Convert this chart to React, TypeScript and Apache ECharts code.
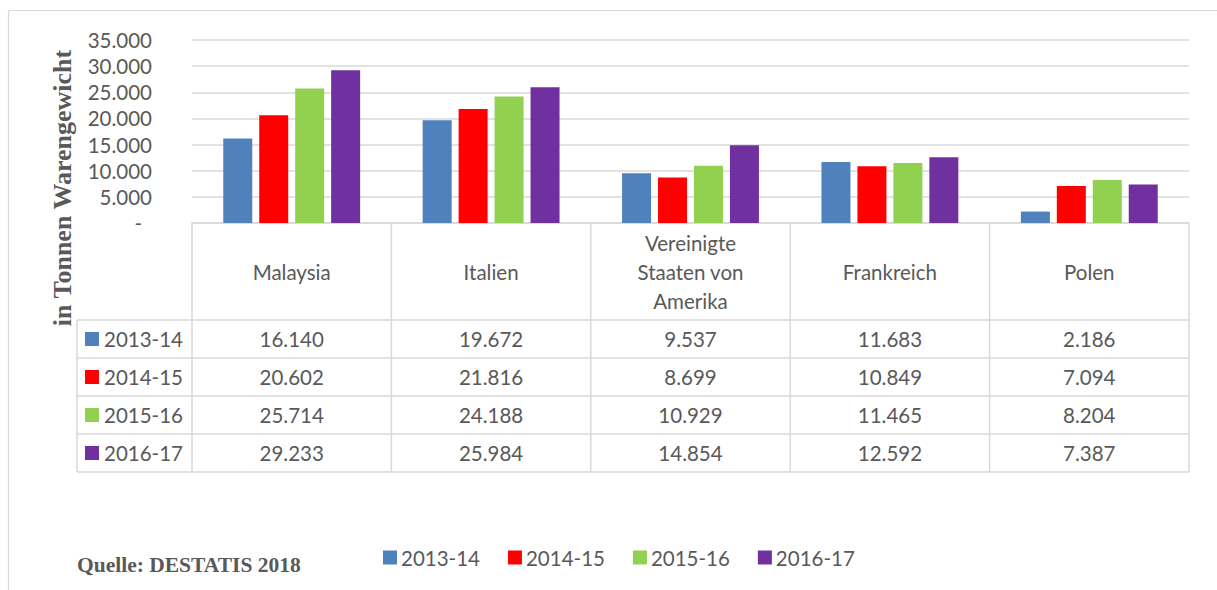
import React, { useEffect, useRef } from "react";
import * as echarts from "echarts";

const categories = ["Malaysia", "Italien", "Vereinigte Staaten von Amerika", "Frankreich", "Polen"];
const headerLabels = ["Malaysia", "Italien", "Vereinigte\nStaaten von\nAmerika", "Frankreich", "Polen"];
const seriesNames = ["2013-14", "2014-15", "2015-16", "2016-17"];
const values2013 = [16140, 19672, 9537, 11683, 2186];
const values2014 = [20602, 21816, 8699, 10849, 7094];
const values2015 = [25714, 24188, 10929, 11465, 8204];
const values2016 = [29233, 25984, 14854, 12592, 7387];
const seriesValues = [values2013, values2014, values2015, values2016];
const colors = ["#4F81BD", "#FF0000", "#92D050", "#7030A0"];
const yMin = 0;
const yMax = 35000;
const yInterval = 5000;
const yTitle = "in Tonnen Warengewicht";
const sourceText = "Quelle: DESTATIS 2018";

const FONT = "Lato";
const TEXT = "#595959";
const LINE = "#d9d9d9";

function fmt(v: number): string {
  return Math.round(v).toString().replace(/\B(?=(\d{3})+(?!\d))/g, ".");
}

export default function App() {
  const ref = useRef<HTMLDivElement>(null);
  useEffect(() => {
    if (!ref.current) return;
    const chart = echarts.init(ref.current, null, { renderer: "svg" });
    const option: any = {
      animation: false,
      backgroundColor: "#ffffff",
      grid: { left: 192, right: 28, top: 40, bottom: 367, containLabel: false },
      legend: {
        data: seriesNames,
        left: 383,
        top: 547,
        padding: 0,
        icon: "rect",
        itemWidth: 14,
        itemHeight: 14,
        itemGap: 28,
        textStyle: { fontFamily: FONT, fontSize: 20.5, color: TEXT, padding: [0, 0, 0, -1] },
      },
      xAxis: {
        type: "category",
        data: categories,
        axisLabel: { show: false },
        axisTick: { show: false },
        axisLine: { show: true, lineStyle: { color: LINE, width: 1.5 } },
      },
      yAxis: {
        type: "value",
        min: yMin,
        max: yMax,
        interval: yInterval,
        axisLine: { show: false },
        axisTick: { show: false },
        splitLine: { lineStyle: { color: LINE, width: 1.5 } },
        axisLabel: {
          margin: 40,
          fontFamily: FONT,
          fontSize: 20.5,
          color: TEXT,
          formatter: (v: number) => (v === 0 ? "{d|-}" : fmt(v)),
          rich: { d: { fontFamily: FONT, fontSize: 20.5, color: TEXT, padding: [0, 10, 0, 0] } },
        },
      },
      series: seriesNames.map((name, i) => ({
        name,
        type: "bar",
        data: seriesValues[i],
        barWidth: 29,
        barGap: "24%",
        itemStyle: { color: colors[i] },
      })),
    };
    chart.setOption(option);

    // build the data table below the plot from the axis positions
    const centers = categories.map((c) => chart.convertToPixel({ xAxisIndex: 0 }, c) as number);
    const step = centers.length > 1 ? centers[1] - centers[0] : 200;
    const bounds = [centers[0] - step / 2, ...centers.map((c) => c + step / 2)];
    const tableTop = chart.convertToPixel({ yAxisIndex: 0 }, 0) as number;
    const headerH = 97;
    const rowH = 38;
    const leftX = 77;
    const rightX = bounds[bounds.length - 1];
    const rowTops = seriesNames.map((_, i) => tableTop + headerH + i * rowH);
    const tableBottom = tableTop + headerH + seriesNames.length * rowH;

    const lineStyle = { stroke: LINE, lineWidth: 1.5 };
    const g: any[] = [];
    // outer frame
    g.push({ type: "line", shape: { x1: 8.5, y1: 10.5, x2: 1217, y2: 10.5 }, style: { stroke: LINE, lineWidth: 1.2 } });
    g.push({ type: "line", shape: { x1: 8.5, y1: 10.5, x2: 8.5, y2: 590 }, style: { stroke: LINE, lineWidth: 1.2 } });
    // vertical lines
    bounds.forEach((x) => {
      g.push({ type: "line", shape: { x1: x, y1: tableTop, x2: x, y2: tableBottom }, style: lineStyle });
    });
    g.push({ type: "line", shape: { x1: leftX, y1: rowTops[0], x2: leftX, y2: tableBottom }, style: lineStyle });
    // horizontal lines
    [...rowTops, tableBottom].forEach((y) => {
      g.push({ type: "line", shape: { x1: leftX, y1: y, x2: rightX, y2: y }, style: lineStyle });
    });
    // header texts
    headerLabels.forEach((lab, j) => {
      g.push({
        type: "text",
        x: centers[j],
        y: tableTop + headerH / 2,
        style: {
          text: lab,
          align: "center",
          verticalAlign: "middle",
          fontFamily: FONT,
          fontSize: 20.5,
          lineHeight: 29,
          fill: TEXT,
        },
      });
    });
    // rows
    seriesNames.forEach((name, i) => {
      const cy = rowTops[i] + rowH / 2;
      g.push({ type: "rect", shape: { x: 85, y: cy - 7, width: 14, height: 14 }, style: { fill: colors[i] } });
      g.push({
        type: "text",
        x: 104,
        y: cy,
        style: { text: name, align: "left", verticalAlign: "middle", fontFamily: FONT, fontSize: 20.5, fill: TEXT },
      });
      seriesValues[i].forEach((v, j) => {
        g.push({
          type: "text",
          x: centers[j],
          y: cy,
          style: { text: fmt(v), align: "center", verticalAlign: "middle", fontFamily: FONT, fontSize: 20.5, fill: TEXT },
        });
      });
    });
    // y title
    g.push({
      type: "text",
      x: 62,
      y: 188,
      rotation: Math.PI / 2,
      style: {
        text: yTitle,
        align: "center",
        verticalAlign: "middle",
        fontFamily: "Liberation Serif",
        fontWeight: "bold",
        fontSize: 26,
        fill: TEXT,
      },
    });
    // source
    g.push({
      type: "text",
      x: 77,
      y: 565,
      style: {
        text: sourceText,
        align: "left",
        verticalAlign: "middle",
        fontFamily: "Liberation Serif",
        fontWeight: "bold",
        fontSize: 21.5,
        fill: TEXT,
      },
    });
    chart.setOption({ graphic: { elements: g } });

    return () => chart.dispose();
  }, []);
  return <div ref={ref} style={{ position: "fixed", left: 0, top: 0, width: 1217, height: 590 }} />;
}
